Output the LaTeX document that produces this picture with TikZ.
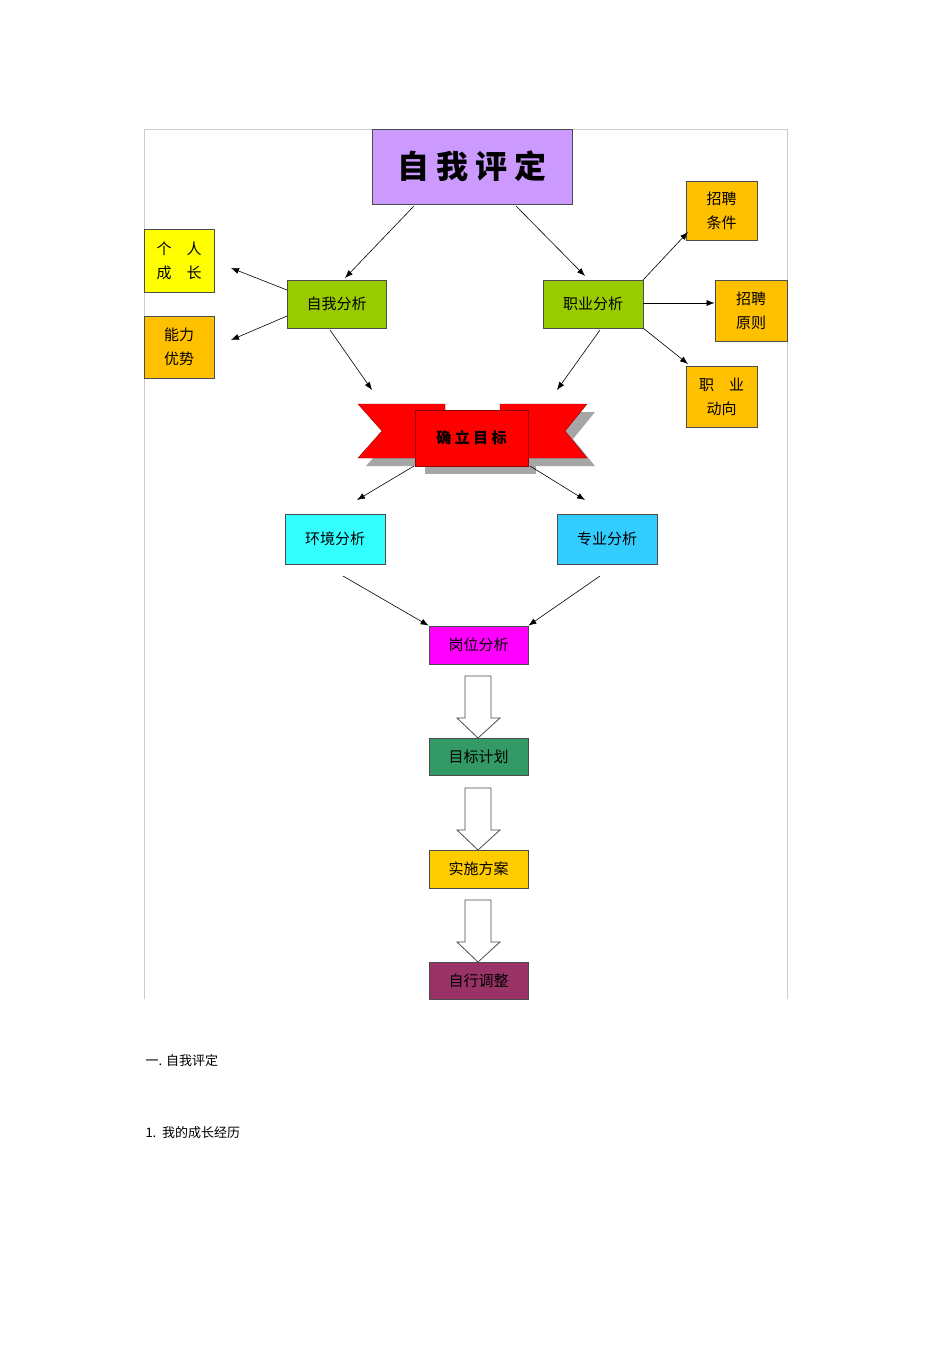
\documentclass[tikz,border=0pt]{standalone}
\usepackage{fontspec}
\newfontfamily\cjk{Noto Sans CJK SC}
\newfontfamily\cjkb{Noto Sans CJK SC Black}
\usetikzlibrary{arrows.meta}
\definecolor{cviol}{HTML}{CC99FF}
\definecolor{cgreen}{HTML}{99CC00}
\definecolor{cgold}{HTML}{FFC000}
\definecolor{cyel}{HTML}{FFFF00}
\definecolor{ccyan}{HTML}{33FFFF}
\definecolor{csky}{HTML}{33CCFF}
\definecolor{cmag}{HTML}{FF00FF}
\definecolor{cteal}{HTML}{339966}
\definecolor{cimpl}{HTML}{FFCC00}
\definecolor{cplum}{HTML}{993366}
\begin{document}
\begin{tikzpicture}[x=1pt,y=-1pt,
  box/.style={draw=black!70,line width=0.8pt,inner sep=0pt,font=\cjk\fontsize{15}{24}\selectfont,align=center},
  con/.style={-{Latex[length=8pt,width=6pt]},line width=0.6pt}]
\useasboundingbox (0,0) rectangle (950,1345);
\draw[black!20] (144,999) -- (144,129) -- (787,129) -- (787,999);
\def\bx#1#2#3#4#5#6#7{\node[box,fill=#6,minimum width=#4-#2,minimum height=#5-#3] (#1) at ({(#2+#4)/2},{(#3+#5)/2}) {#7};}
\bx{top}{372}{129}{572}{204}{cviol}{}
\node[font=\cjkb\fontsize{32}{36}\selectfont] at (top) {自 我 评 定};
\bx{grow}{144}{229}{214}{292}{cyel}{个\quad 人\\成\quad 长}
\bx{abil}{144}{316}{214}{378}{cgold}{能力\\优势}
\bx{self}{287}{280}{386}{328}{cgreen}{自我分析}
\bx{job}{543}{280}{643}{328}{cgreen}{职业分析}
\bx{cond}{686}{181}{757}{240}{cgold}{招聘\\条件}
\bx{rule}{715}{280}{787}{341}{cgold}{招聘\\原则}
\bx{trend}{686}{366}{757}{427}{cgold}{职\quad 业\\动向}
% ribbon
\fill[gray!70] (366,412) -- (448,412) -- (448,466) -- (366,466) -- (390,439) -- cycle;
\fill[gray!70] (508,412) -- (595,412) -- (573,439) -- (595,466) -- (508,466) -- cycle;
\fill[gray!70] (425,418) rectangle (536,474);
\draw[fill=red,draw=red!60!black] (358,404) -- (445,404) -- (445,458) -- (358,458) -- (382,431) -- cycle;
\draw[fill=red,draw=red!60!black] (500,404) -- (587,404) -- (565,431) -- (587,458) -- (500,458) -- cycle;
\node[draw=red!60!black,fill=red,minimum width=113,minimum height=56,inner sep=0pt,font=\cjkb\fontsize{15}{18}\selectfont] (goal) at (471.5,438) {确 立 目 标};
\bx{env}{285}{514}{385}{564}{ccyan}{环境分析}
\bx{pro}{557}{514}{657}{564}{csky}{专业分析}
\bx{post}{429}{626}{528}{664}{cmag}{岗位分析}
\bx{plan}{429}{738}{528}{775}{cteal}{目标计划}
\bx{impl}{429}{850}{528}{888}{cimpl}{实施方案}
\bx{adj}{429}{962}{528}{999}{cplum}{自行调整}
\coordinate (a1) at (414,206); \coordinate (b1) at (345,278);
\coordinate (a2) at (516,206); \coordinate (b2) at (585,276);
\draw[con] (a1) -- (b1); \draw[con] (a2) -- (b2);
\draw[con] (287,290) -- (231,268);
\draw[con] (287,316) -- (231,340);
\draw[con] (643,280) -- (688,232);
\draw[con] (643,303) -- (rule.west|-0,303);
\draw[con] (643,328) -- (688,364);
\draw[con] (330,330) -- (372,390);
\draw[con] (600,330) -- (557,390);
\draw[con] (414,466) -- (357,500);
\draw[con] (530,466) -- (585,500);
\draw[con] (343,576) -- (post.north west);
\draw[con] (600,576) -- (post.north east);
\foreach \y in {676,788,900}{
  \draw[draw=black!70,fill=white,line width=0.8pt] (465,\y) -- (491,\y) -- (491,\y+42) -- (500,\y+42) -- (478,\y+62) -- (457,\y+42) -- (465,\y+42) -- cycle;}
\node[anchor=west,font=\cjk\fontsize{13}{15}\selectfont] (t1) at (142,1061) {一. 自我评定};
\node[anchor=west,font=\cjk\fontsize{13}{15}\selectfont] (t2) at (142,1133) {1.\ \ 我的成长经历};
\end{tikzpicture}
\end{document}
